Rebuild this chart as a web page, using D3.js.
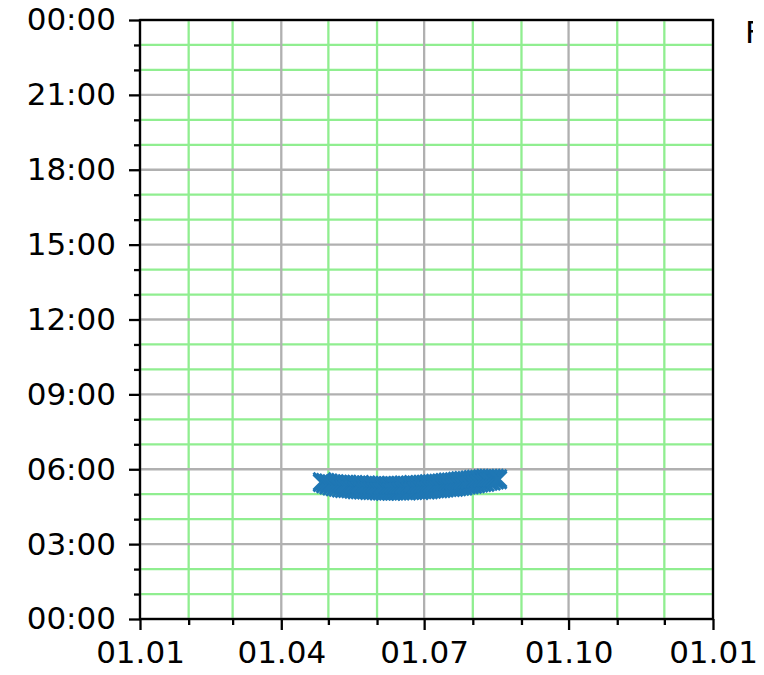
<!DOCTYPE html>
<html>
<head>
<meta charset="utf-8">
<script src="https://cdn.jsdelivr.net/npm/d3@7"></script>
<style>
  html, body { margin: 0; padding: 0; background: #fff; }
  svg { display: block; }
  text { font-family: "DejaVu Sans", sans-serif; fill: #000; }
</style>
</head>
<body>
<svg id="chart" width="764" height="675"></svg>
<script>
// ---- data ----
const year = "2023";
const dates = ["04-27","04-29","05-01","05-03","05-05","05-07","05-09","05-11","05-13","05-15",
  "05-17","05-19","05-21","05-23","05-25","05-27","05-29","05-31","06-02","06-04",
  "06-06","06-08","06-10","06-12","06-14","06-16","06-18","06-20","06-22","06-24",
  "06-26","06-28","06-30","07-02","07-04","07-06","07-08","07-10","07-12","07-14",
  "07-16","07-18","07-20","07-22","07-24","07-26","07-28","07-30","08-01","08-03",
  "08-05","08-07","08-09","08-11","08-13","08-15","08-17"];
const timesEarly = ["05:27","05:24","05:21","05:19","05:17","05:16","05:14","05:13","05:13","05:12",
  "05:11","05:10","05:10","05:09","05:09","05:08","05:08","05:08","05:07","05:07",
  "05:06","05:07","05:06","05:07","05:07","05:07","05:08","05:07","05:08","05:08",
  "05:09","05:08","05:10","05:09","05:10","05:11","05:12","05:12","05:13","05:14",
  "05:15","05:15","05:16","05:17","05:18","05:19","05:21","05:22","05:23","05:24",
  "05:26","05:27","05:28","05:30","05:31","05:33","05:34"];
const timesLate = ["05:31","05:29","05:28","05:26","05:26","05:25","05:25","05:24","05:25","05:23",
  "05:24","05:23","05:24","05:22","05:23","05:22","05:21","05:22","05:21","05:21",
  "05:22","05:21","05:22","05:21","05:22","05:22","05:23","05:22","05:23","05:24",
  "05:23","05:24","05:25","05:25","05:26","05:26","05:27","05:27","05:28","05:29",
  "05:30","05:30","05:31","05:32","05:33","05:34","05:34","05:35","05:36","05:37",
  "05:37","05:38","05:39","05:39","05:39","05:39","05:38"];
const xDomain = ["2023-01-01", "2024-01-01"];
const yDomain = ["2023-01-01 00:00", "2023-01-02 00:00"];
const sideText = "F";

// ---- layout ----
const svg = d3.select("#chart");
const L = 140, R = 713, T = 20, B = 619;
const parseDay = d3.utcParse("%Y-%m-%d");
const parseDT = d3.utcParse("%Y-%m-%d %H:%M");

const x = d3.scaleUtc().domain(xDomain.map(parseDay)).range([L, R]);
const y = d3.scaleUtc().domain(yDomain.map(parseDT)).range([B, T]);

const points = [];
dates.forEach((d, i) => {
  [timesEarly[i], timesLate[i]].forEach(t => {
    points.push({ day: parseDay(`${year}-${d}`), time: parseDT(`2023-01-01 ${t}`) });
  });
});

const xMajor = x.ticks(d3.utcMonth.every(3));
const xMinorAll = x.ticks(d3.utcMonth.every(1));
const xMinor = xMinorAll.filter(d => !xMajor.some(m => +m === +d));
const yMajor = y.ticks(d3.utcHour.every(3));
const yMinorAll = y.ticks(d3.utcHour.every(1));
const yMinor = yMinorAll.filter(d => !yMajor.some(m => +m === +d));

const gridW = 2.3;
// minor grid (light green)
const gMinor = svg.append("g");
gMinor.selectAll("line.vx").data(xMinor).join("line")
  .attr("x1", d => x(d)).attr("x2", d => x(d)).attr("y1", T).attr("y2", B)
  .attr("stroke", "#90ee90").attr("stroke-width", gridW);
gMinor.selectAll("line.hy").data(yMinor).join("line")
  .attr("y1", d => y(d)).attr("y2", d => y(d)).attr("x1", L).attr("x2", R)
  .attr("stroke", "#90ee90").attr("stroke-width", gridW);
// major grid (gray)
const gMajor = svg.append("g");
gMajor.selectAll("line.vx").data(xMajor).join("line")
  .attr("x1", d => x(d)).attr("x2", d => x(d)).attr("y1", T).attr("y2", B)
  .attr("stroke", "#b0b0b0").attr("stroke-width", gridW);
gMajor.selectAll("line.hy").data(yMajor).join("line")
  .attr("y1", d => y(d)).attr("y2", d => y(d)).attr("x1", L).attr("x2", R)
  .attr("stroke", "#b0b0b0").attr("stroke-width", gridW);

// markers 'x'
const ms = 8.6;
const gPts = svg.append("g").attr("stroke", "#1f77b4").attr("stroke-width", 2.9).attr("fill", "none");
gPts.selectAll("path").data(points).join("path")
  .attr("d", d => {
    const cx = x(d.day), cy = y(d.time);
    return `M${cx-ms},${cy-ms}L${cx+ms},${cy+ms}M${cx-ms},${cy+ms}L${cx+ms},${cy-ms}`;
  });

// axes
const fontSize = 31;
const fmtX = d3.utcFormat("%d.%m");
const fmtY = d3.utcFormat("%H:%M");

const xAxis = svg.append("g").attr("transform", `translate(0,${B})`)
  .call(d3.axisBottom(x).tickValues(xMajor).tickFormat(fmtX).tickSize(11).tickPadding(11));
const xAxisMinor = svg.append("g").attr("transform", `translate(0,${B})`)
  .call(d3.axisBottom(x).tickValues(xMinor).tickFormat("").tickSize(6));
const yAxis = svg.append("g").attr("transform", `translate(${L},0)`)
  .call(d3.axisLeft(y).tickValues(yMajor).tickFormat(fmtY).tickSize(11).tickPadding(13));
const yAxisMinor = svg.append("g").attr("transform", `translate(${L},0)`)
  .call(d3.axisLeft(y).tickValues(yMinor).tickFormat("").tickSize(6));

[xAxis, xAxisMinor, yAxis, yAxisMinor].forEach(g => {
  g.select(".domain").remove();
  g.selectAll(".tick line").attr("stroke", "#000").attr("stroke-width", 2.3);
  g.selectAll("text").attr("font-size", fontSize).attr("font-family", "DejaVu Sans, sans-serif").attr("fill", "#000");
});

// frame
svg.append("rect").attr("x", L).attr("y", T).attr("width", R - L).attr("height", B - T)
  .attr("fill", "none").attr("stroke", "#000").attr("stroke-width", 2.3);

// partially visible text at the right edge (clipped as in the picture)
svg.append("clipPath").attr("id", "sideClip")
  .append("rect").attr("x", 740).attr("y", 0).attr("width", 13).attr("height", 60);
svg.append("text").attr("x", 745).attr("y", 43).attr("font-size", fontSize)
  .attr("clip-path", "url(#sideClip)").text(sideText);
</script>
</body>
</html>
